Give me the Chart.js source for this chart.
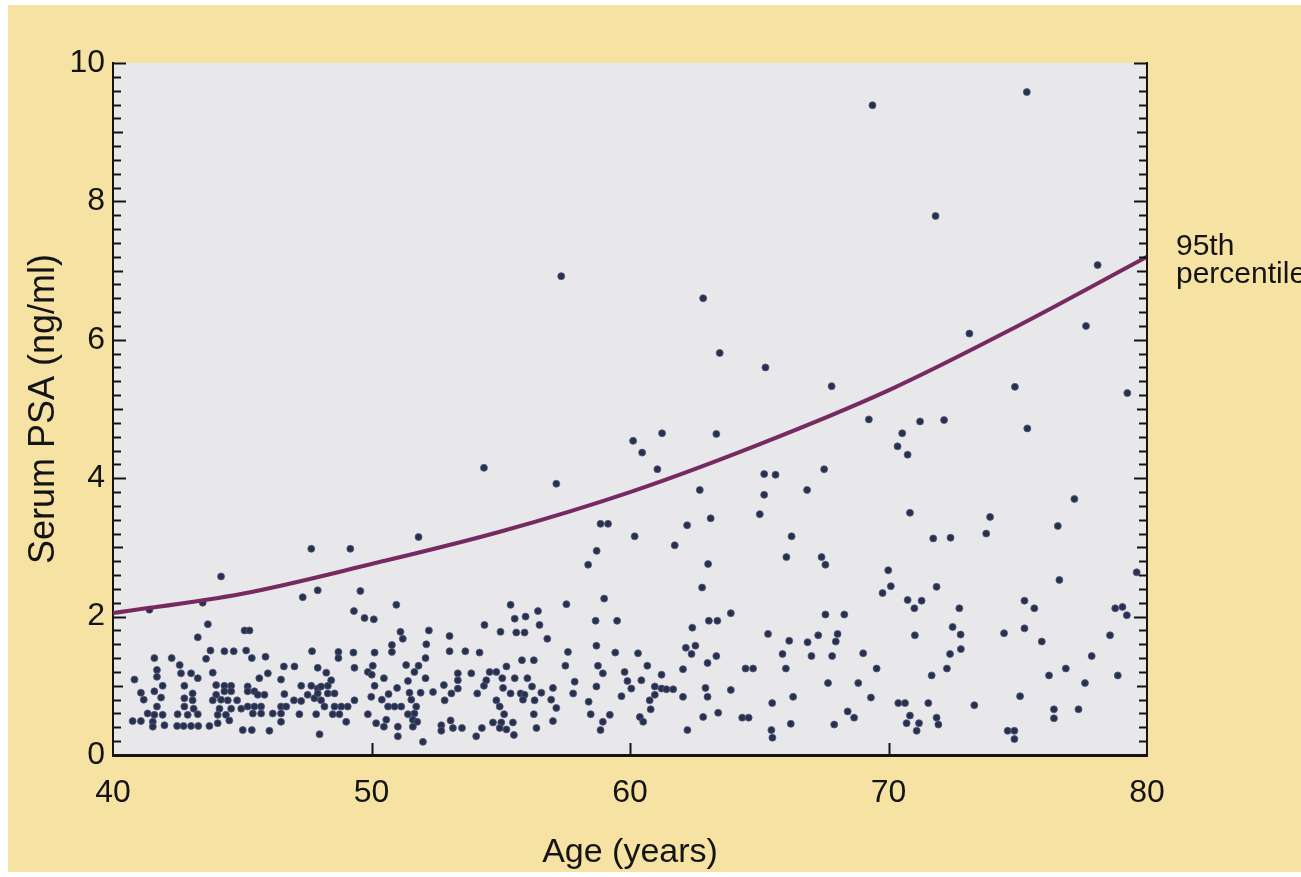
<!DOCTYPE html>
<html>
<head>
<meta charset="utf-8">
<script src="https://cdn.jsdelivr.net/npm/chart.js@4.4.1/dist/chart.umd.min.js"></script>
<style>
  html, body { margin: 0; padding: 0; background: #ffffff; overflow: hidden; }
  #wrap { position: relative; width: 1301px; height: 877px; }
</style>
</head>
<body>
<div id="wrap"><canvas id="c"></canvas></div>
<script>
// ---- Data (age in years, serum PSA in ng/ml) ----
const points40to50 = [
 [44.18,2.58],[47.34,2.28],[47.92,2.38],[49.57,2.37],[41.41,2.10],[43.47,2.20],[49.32,2.08],[49.73,1.98],[50.09,1.96],
 [43.67,1.89],[43.28,1.70],[45.09,1.80],[45.28,1.80],[43.77,1.51],[43.60,1.39],[44.31,1.50],[44.67,1.50],[45.15,1.51],
 [45.37,1.40],[45.90,1.42],[47.70,1.50],[48.72,1.49],[48.72,1.40],[49.30,1.48],[41.60,1.40],[42.27,1.40],[42.58,1.30],
 [42.63,1.18],[43.02,1.18],[43.28,1.11],[40.83,1.09],[41.70,1.23],[41.70,1.13],[41.08,0.90],[41.19,0.80],[41.92,1.00],
 [41.60,0.92],[41.86,0.83],[41.70,0.70],[41.34,0.60],[41.60,0.58],[41.92,0.58],[40.76,0.49],[41.08,0.49],[41.54,0.48],
 [41.54,0.41],[41.99,0.43],[42.76,1.00],[42.76,0.82],[43.08,0.89],[43.08,0.79],[42.76,0.70],[43.12,0.67],[43.28,0.59],
 [42.89,0.58],[42.50,0.59],[42.48,0.42],[42.73,0.42],[43.02,0.42],[43.30,0.42],[43.86,1.19],[43.99,1.01],[43.99,0.87],
 [44.31,1.00],[44.57,1.00],[44.31,0.92],[44.57,0.92],[43.86,0.79],[44.18,0.80],[44.44,0.79],[44.80,0.79],[44.12,0.67],
 [44.05,0.58],[44.37,0.58],[44.57,0.67],[43.73,0.42],[44.05,0.46],[44.50,0.50],[45.02,0.36],[45.37,0.36],[46.05,0.35],
 [45.21,0.99],[45.21,0.92],[45.47,0.92],[45.60,0.87],[45.86,0.87],[44.96,0.67],[45.21,0.70],[45.47,0.70],[45.73,0.70],
 [45.41,0.60],[45.73,0.60],[45.66,1.11],[45.99,1.18],[46.18,0.60],[46.50,0.70],[46.70,0.70],[46.50,0.60],[46.50,0.48],
 [46.50,1.09],[46.63,0.88],[46.61,1.28],[47.02,1.28],[47.28,1.00],[47.00,0.79],[47.28,0.78],[47.21,0.59],[47.67,1.00],
 [47.92,0.96],[47.53,0.87],[47.79,0.82],[48.05,0.99],[48.31,1.00],[48.31,0.89],[47.92,0.89],[48.44,1.08],[48.05,0.79],
 [48.18,0.70],[47.92,1.26],[48.25,1.19],[47.86,0.59],[47.99,0.30],[48.57,0.70],[48.83,0.70],[49.08,0.70],[48.50,0.59],
 [48.76,0.59],[49.02,0.48],[48.57,0.89],[49.34,0.79],[49.34,1.26],[49.86,1.20],[50.01,1.16],[50.12,1.00],[49.99,0.84],
 [49.86,0.59],[50.18,0.46],[47.67,2.98],[49.18,2.98]
];
const points50to60 = [
 [58.38,2.75],[50.96,2.17],[55.38,2.17],[57.54,2.18],[59.00,2.26],[55.54,1.97],[55.96,2.00],[56.44,2.08],[54.37,1.88],
 [54.99,1.78],[55.60,1.77],[55.92,1.77],[56.50,1.88],[56.80,1.68],[58.67,1.94],[59.50,1.94],[51.12,1.78],[51.21,1.68],
 [52.22,1.80],[53.02,1.72],[50.79,1.59],[50.79,1.49],[50.12,1.48],[52.12,1.60],[52.09,1.40],[53.02,1.50],[53.63,1.50],
 [54.18,1.48],[55.82,1.37],[56.28,1.37],[58.70,1.58],[59.43,1.48],[57.60,1.49],[57.50,1.29],[58.76,1.29],[58.95,1.18],
 [59.79,1.20],[60.31,1.47],[51.34,1.30],[51.66,1.20],[51.82,1.29],[50.05,1.29],[50.48,1.11],[51.41,1.07],[50.99,0.97],
 [50.66,0.88],[50.40,0.80],[50.48,0.41],[50.57,0.51],[51.47,0.90],[51.54,0.80],[51.73,0.70],[51.90,0.90],[51.66,0.60],
 [51.41,0.59],[51.60,0.51],[51.77,0.48],[51.60,0.41],[51.02,0.41],[51.02,0.27],[51.15,0.70],[50.89,0.70],[50.64,0.70],
 [51.99,0.19],[52.09,1.11],[52.38,0.91],[52.80,1.01],[52.83,0.79],[53.09,0.89],[53.34,0.96],[53.34,1.08],[53.34,1.18],
 [53.86,1.18],[52.70,0.43],[52.70,0.35],[53.06,0.50],[53.15,0.39],[53.50,0.39],[54.05,0.27],[54.27,0.39],[54.09,0.89],
 [54.35,1.00],[54.44,1.08],[54.57,1.20],[54.83,1.20],[55.06,1.11],[55.09,0.97],[55.22,1.28],[55.54,1.11],[56.03,1.11],
 [54.83,0.79],[54.96,0.70],[55.13,0.59],[54.70,0.47],[55.02,0.47],[55.22,0.37],[54.96,0.39],[55.47,0.47],[55.51,0.29],
 [55.38,0.89],[55.77,0.89],[55.92,0.87],[55.86,0.80],[56.21,0.99],[56.31,0.79],[56.57,0.90],[56.28,0.59],[56.38,0.39],
 [57.02,0.97],[56.95,0.80],[57.15,0.68],[57.02,0.49],[57.86,1.06],[57.80,0.89],[58.70,0.99],[58.40,0.77],[58.48,0.59],
 [59.22,0.58],[58.95,0.48],[58.86,0.36],[59.67,0.85],[59.90,1.07],[60.05,0.96],[60.38,0.55],
 [54.35,4.15],[57.15,3.92],[51.82,3.15],[58.86,3.34],[59.15,3.34],[58.71,2.95],[57.34,6.92]
];
const points60to70 = [
 [63.02,2.76],[67.56,2.75],[69.99,2.67],[70.09,2.44],[69.77,2.34],[62.79,2.42],[63.90,2.05],[63.05,1.94],[63.38,1.94],
 [62.41,1.84],[67.56,2.03],[68.29,2.03],[65.34,1.75],[67.28,1.73],[68.03,1.75],[67.96,1.64],[66.16,1.65],[66.87,1.63],
 [62.16,1.55],[62.53,1.58],[62.38,1.46],[63.34,1.43],[63.00,1.33],[65.90,1.46],[67.02,1.43],[67.82,1.43],[69.02,1.47],
 [69.54,1.25],[60.67,1.29],[60.44,1.08],[61.22,1.16],[60.96,0.99],[61.22,0.96],[61.41,0.95],[61.67,0.95],[60.96,0.87],
 [60.76,0.79],[60.80,0.66],[60.51,0.48],[62.05,1.24],[62.05,0.84],[62.92,0.97],[63.00,0.84],[63.90,0.94],[64.47,1.25],
 [64.76,1.25],[66.03,1.25],[67.66,1.04],[68.83,1.04],[69.32,0.83],[70.38,0.75],[62.22,0.36],[62.83,0.55],[63.41,0.61],
 [64.34,0.54],[64.59,0.54],[65.50,0.75],[66.31,0.84],[65.47,0.36],[65.51,0.25],[66.22,0.45],[67.90,0.44],[68.42,0.63],
 [68.67,0.54],
 [62.83,6.60],[63.47,5.81],[65.24,5.60],[67.80,5.33],[69.24,4.85],[60.12,4.54],[60.47,4.37],[61.24,4.65],[61.06,4.13],
 [63.34,4.64],[65.19,4.06],[65.63,4.05],[67.51,4.13],[62.70,3.83],[65.19,3.76],[66.85,3.83],[63.12,3.42],[62.21,3.32],
 [65.02,3.48],[60.18,3.16],[61.73,3.03],[66.25,3.16],[66.05,2.86],[67.41,2.86],[69.38,9.39]
];
const points70to80 = [
 [71.86,2.43],[70.74,2.24],[71.28,2.23],[71.00,2.12],[72.74,2.12],[76.61,2.53],[79.60,2.64],[75.26,2.23],[75.64,2.12],
 [78.77,2.12],[79.05,2.14],[79.22,2.02],[71.02,1.73],[72.48,1.85],[72.79,1.74],[72.80,1.53],[72.38,1.46],[72.26,1.25],
 [71.67,1.15],[74.47,1.76],[75.26,1.83],[75.93,1.64],[78.57,1.73],[77.86,1.43],[78.87,1.15],[77.60,1.04],[76.86,1.25],
 [76.21,1.15],[75.09,0.85],[70.64,0.75],[71.54,0.75],[70.83,0.57],[70.70,0.46],[71.18,0.46],[71.09,0.35],[71.86,0.54],
 [71.93,0.44],[73.32,0.72],[74.61,0.35],[74.87,0.35],[74.87,0.23],[76.40,0.66],[76.40,0.53],[77.35,0.66],
 [73.13,6.09],[77.64,6.20],[74.89,5.32],[79.24,5.23],[71.22,4.82],[72.15,4.84],[70.53,4.65],[70.35,4.46],[70.74,4.34],
 [75.37,4.72],[70.83,3.50],[71.73,3.13],[72.40,3.14],[73.93,3.44],[73.78,3.20],[77.19,3.70],[76.55,3.31],
 [75.35,9.58],[71.82,7.79],[78.09,7.08]
];
// 95th percentile curve
const curveAges   = [40, 45, 50, 55, 60, 65, 70, 75, 80];
const curveValues = [2.05, 2.33, 2.76, 3.23, 3.80, 4.49, 5.27, 6.20, 7.20];
const curveLabel  = ['95th', 'percentile'];
// Axis ticks and titles
const xTickValues = [40, 50, 60, 70, 80];
const yTickValues = [0, 2, 4, 6, 8, 10];
const xTitle = 'Age (years)';
const yTitle = 'Serum PSA (ng/ml)';

// ---- Chart ----
const FONT = '"Liberation Sans", Arial, Helvetica, sans-serif';
const INK = '#141414';

const toXY = arr => arr.map(p => ({ x: p[0], y: p[1] }));
const allPoints = [].concat(toXY(points40to50), toXY(points50to60), toXY(points60to70), toXY(points70to80));
const curvePoints = curveAges.map((a, i) => ({ x: a, y: curveValues[i] }));

const backgroundPlugin = {
  id: 'bg',
  beforeDraw(chart) {
    const { ctx, width, height, chartArea: a } = chart;
    ctx.save();
    ctx.fillStyle = '#ffffff';
    ctx.fillRect(0, 0, width, height);
    ctx.fillStyle = '#f6e3a3';
    ctx.fillRect(8, 5, width - 8, height - 10);
    ctx.fillStyle = '#e8e8eb';
    ctx.fillRect(a.left, a.top, a.right - a.left, a.bottom - a.top);
    ctx.restore();
  }
};

const inwardTicks = {
  id: 'inwardTicks',
  afterDraw(chart) {
    const { ctx, chartArea: a, scales } = chart;
    const ys = scales.y, xs = scales.x;
    ctx.save();
    ctx.strokeStyle = INK;
    ctx.lineWidth = 2;
    ctx.beginPath();
    for (let i = 0; i <= 50; i++) {
      const v = i / 5;
      const py = Math.round(ys.getPixelForValue(v)) + 0.5;
      let len = 8;
      if (i % 10 === 0) len = 13; else if (i % 5 === 0) len = 10;
      ctx.moveTo(a.left, py); ctx.lineTo(a.left + len, py);
      ctx.moveTo(a.right, py); ctx.lineTo(a.right - len, py);
    }
    xTickValues.forEach(v => {
      if (v === xs.min || v === xs.max) return;
      const px = Math.round(xs.getPixelForValue(v)) + 0.5;
      ctx.moveTo(px, a.bottom); ctx.lineTo(px, a.bottom - 12);
    });
    ctx.stroke();
    // curve label
    const lx = a.right + 29;
    const ly = ys.getPixelForValue(curveValues[curveValues.length - 1]);
    ctx.fillStyle = INK;
    ctx.font = '30px ' + FONT;
    ctx.textAlign = 'left';
    ctx.textBaseline = 'alphabetic';
    ctx.fillText(curveLabel[0], lx, ly - 2);
    ctx.fillText(curveLabel[1], lx, ly + 26);
    ctx.restore();
  }
};

new Chart(document.getElementById('c'), {
  type: 'scatter',
  data: {
    datasets: [
      {
        label: 'Men',
        data: allPoints,
        pointRadius: 3.5,
        pointHoverRadius: 3.5,
        pointBackgroundColor: '#283050',
        pointBorderColor: '#535a78',
        pointBorderWidth: 0.8,
        order: 2
      },
      {
        label: '95th percentile',
        type: 'line',
        data: curvePoints,
        showLine: true,
        borderColor: '#772a60',
        borderWidth: 4,
        pointRadius: 0,
        fill: false,
        cubicInterpolationMode: 'monotone',
        order: 1
      }
    ]
  },
  options: {
    responsive: true,
    maintainAspectRatio: false,
    animation: false,
    events: [],
    layout: { padding: { top: 63, right: 154, left: 0, bottom: 0 } },
    plugins: { legend: { display: false }, tooltip: { enabled: false } },
    scales: {
      x: {
        type: 'linear', min: 40, max: 80,
        afterBuildTicks(s) { s.ticks = xTickValues.map(v => ({ value: v })); },
        afterFit(s) { s.height = 122; },
        ticks: { font: { family: FONT, size: 32 }, color: INK, padding: 19, maxRotation: 0 },
        grid: { display: false, drawTicks: false },
        border: { display: true, color: INK, width: 3 },
        title: { display: true, text: xTitle, color: INK, font: { family: FONT, size: 34 }, padding: { top: 0, bottom: 4 } }
      },
      y: {
        type: 'linear', min: 0, max: 10, position: 'left',
        afterBuildTicks(s) { s.ticks = yTickValues.map(v => ({ value: v })); },
        afterFit(s) { s.width = 113; },
        ticks: { font: { family: FONT, size: 32 }, color: INK, padding: 8 },
        grid: { display: false, drawTicks: false },
        border: { display: true, color: INK, width: 2 },
        title: { display: true, text: yTitle, color: INK, font: { family: FONT, size: 36 }, padding: { top: 22, bottom: 0 } }
      },
      y2: {
        type: 'linear', min: 0, max: 10, position: 'right',
        afterFit(s) { s.width = 0; },
        ticks: { display: false },
        grid: { display: false, drawTicks: false },
        border: { display: true, color: INK, width: 2 }
      }
    }
  },
  plugins: [backgroundPlugin, inwardTicks]
});
</script>
</body>
</html>
